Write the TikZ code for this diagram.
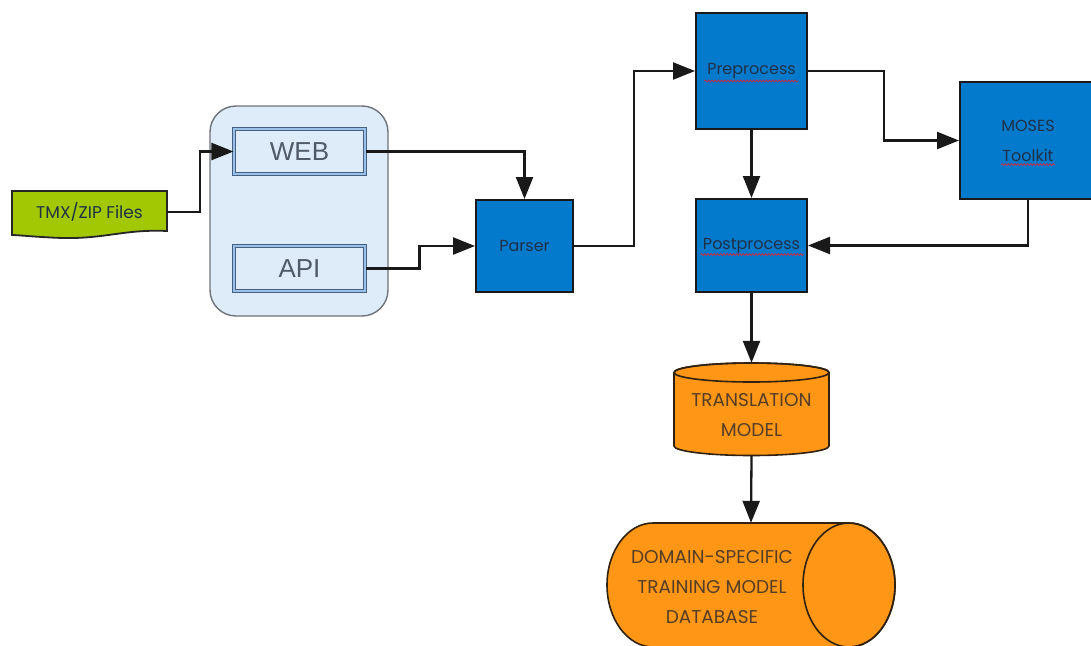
\documentclass[tikz,border=0pt]{standalone}
\usepackage{fontspec}
\setmainfont{Poppins}
\newfontfamily\labelsans{Liberation Sans}
\usetikzlibrary{arrows.meta,calc,decorations.pathmorphing}

\definecolor{procblue}{RGB}{4,122,204}
\definecolor{dborange}{RGB}{255,150,22}
\definecolor{filegreen}{RGB}{162,200,4}
\definecolor{groupfill}{RGB}{222,236,250}
\definecolor{groupline}{RGB}{110,114,120}
\definecolor{framefill}{RGB}{152,192,234}
\definecolor{frameline}{RGB}{72,96,128}
\definecolor{inktext}{RGB}{32,48,72}
\definecolor{ifacetext}{RGB}{80,90,104}
\definecolor{dbtext}{RGB}{84,62,40}
\definecolor{dbline}{RGB}{48,34,18}
\definecolor{spellred}{RGB}{196,44,70}

\tikzset{
  flow/.style={draw=black!90, line width=2.3pt, -{Triangle[length=22pt,width=17pt]}},
  procbox/.style={draw=black!90, line width=2pt, fill=procblue, minimum width=#1,
    text=inktext, font=\fontsize{16}{30}\selectfont, align=center, inner sep=0pt},
  iface/.style={draw=frameline, line width=1.1pt, double=framefill, double distance=2.6pt,
    fill=groupfill, minimum width=131pt, minimum height=45pt, inner sep=0pt,
    text=ifacetext, font=\labelsans\fontsize{26}{30}\selectfont},
  group/.style={draw=groupline, line width=1.4pt, fill=groupfill, rounded corners=26pt,
    minimum width=178pt, minimum height=210pt},
  hidden/.style={minimum width=#1, inner sep=0pt},
  orangetext/.style={text=dbtext, font=\fontsize{18.5}{30}\selectfont, align=center},
  spell/.style={draw=spellred, line width=0.8pt, decorate,
    decoration={snake, amplitude=0.9pt, segment length=3.2pt}},
}

\begin{document}
\begin{tikzpicture}[x=1pt, y=-1pt]
\useasboundingbox[fill=white] (0,0) rectangle (1091,645);

% source file (document shape)
\draw[fill=filegreen, draw=black!85, line width=1.8pt]
  (12,191) -- (167,191) -- (167,231)
  .. controls (125,229) and (105,239) .. (62,238)
  .. controls (35,237) and (18,235) .. (12,235) -- cycle;
\node[hidden=155pt, minimum height=42pt, font=\fontsize{17}{18}\selectfont, text=inktext]
  (tmx) at (89.5,212) {TMX/ZIP Files};

% front-end group with its two interfaces
\node[group] (front) at (299,211) {};
\node[iface] (web) at (299.5,151.5) {WEB};
\node[iface] (api) at (299.5,268.5) {API};

% processing stages
\node[procbox=97pt, minimum height=92pt] (parser) at (524.5,246) {Parser};
\node[procbox=111pt, minimum height=116pt] (pre) at (751.5,71) {Preprocess};
\node[procbox=111pt, minimum height=93pt] (post) at (751.5,245.5) {Postprocess};
\node[procbox=136pt, minimum height=117pt] (moses) at (1028,140.5) {MOSES\\Toolkit};

% spell-check marks under the stage names
\draw[spell] ($(pre.center)+(-47,10)$) -- ++(94,0);
\draw[spell] ($(post.center)+(-51,9)$) -- ++(103,0);
\draw[spell] ($(moses.center)+(-27,24)$) -- ++(54,0);

% translation model (vertical cylinder)
\draw[fill=dborange, draw=dbline, line width=1.6pt]
  (674,372.5) -- (674,446)
  .. controls (674,451.25) and (708.7,455.5) .. (751.5,455.5)
  .. controls (794.3,455.5) and (829,451.25) .. (829,446)
  -- (829,372.5)
  .. controls (829,367.25) and (794.3,363) .. (751.5,363)
  .. controls (708.7,363) and (674,367.25) .. (674,372.5) -- cycle;
\draw[draw=dbline, line width=1.6pt] (751.5,372.5) ellipse [x radius=77.5, y radius=9.5];
\node[hidden=155pt, minimum height=92.5pt] (tm) at (751.5,409.25) {};
\node[orangetext] (tmlabel) at (751.5,415) {TRANSLATION\\MODEL};

% training model database (horizontal cylinder)
\draw[fill=dborange, draw=dbline, line width=1.6pt]
  (653,523) -- (849,523)
  .. controls (874.4,523) and (895,550.8) .. (895,585)
  .. controls (895,619.2) and (874.4,647) .. (849,647)
  -- (653,647)
  .. controls (627.6,647) and (607,619.2) .. (607,585)
  .. controls (607,550.8) and (627.6,523) .. (653,523) -- cycle;
\draw[draw=dbline, line width=1.6pt] (849,585) ellipse [x radius=46, y radius=62];
\node[hidden=288pt, minimum height=124pt] (db) at (751,585) {};
\node[orangetext] (dblabel) at (712,587) {DOMAIN-SPECIFIC\\TRAINING MODEL\\DATABASE};

% connectors
\draw[flow] (tmx.east) -- ($(tmx.east)+(33,0)$) |- (web.west);
\draw[flow] (web.east) -| (parser.north);
\draw[flow] (api.east) -- ($(api.east)+(54,0)$) |- (parser.west);
\draw[flow] (parser.east) -- ($(parser.east)+(60,0)$) |- (pre.west);
\draw[flow] (pre.south) -- (post.north);
\draw[flow] (pre.east) -- ($(pre.east)+(76,0)$) |- (moses.west);
\draw[flow] (moses.south) |- (post.east);
\draw[flow] (post.south) -- (tm.north);
\draw[flow] (tm.south) -- (db.north);
\end{tikzpicture}
\end{document}
